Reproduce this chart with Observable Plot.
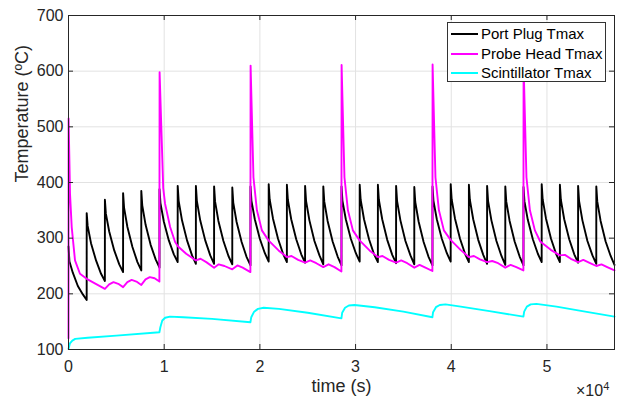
<!DOCTYPE html>
<html><head><meta charset="utf-8">
<script src="https://cdn.jsdelivr.net/npm/d3@7"></script>
<script src="https://cdn.jsdelivr.net/npm/@observablehq/plot@0.6"></script>
<style>
body{margin:0;background:#fff;}
#wrap{position:relative;width:624px;height:403px;font-family:"Liberation Sans",Arial,Helvetica,sans-serif;color:#262626;}
#legend{position:absolute;left:447px;top:22px;width:159px;height:60px;background:#fff;border:1px solid #333;box-sizing:border-box;}
.row{position:absolute;left:0;height:20px;width:100%;}
.row .ln{position:absolute;left:3px;width:27px;height:2px;top:9px;}
.row .tx{position:absolute;left:33px;top:0;line-height:20px;font-size:15px;color:#000;white-space:nowrap;}
#exp{position:absolute;left:576px;top:382px;font-size:16px;line-height:18px;white-space:nowrap;}
#exp sup{font-size:11px;vertical-align:6px;line-height:0;}
</style>
</head><body>
<div id="wrap"><div id="chart"></div>
<div id="legend"></div>
<div id="exp">×10<sup>4</sup></div>
</div>
<script>
// ---- data ----
const seriesNames = ["Port Plug Tmax", "Probe Head Tmax", "Scintillator Tmax"];
const seriesColors = ["#000000", "#ff00ff", "#00ffff"];
const xTicks = [0, 10000, 20000, 30000, 40000, 50000];
const yTicks = [100, 200, 300, 400, 500, 600, 700];

// Port plug: sawtooth teeth, start time of each tooth + values at offsets within the tooth
const toothStart = [0, 1902, 3804, 5706, 7608,
  9510, 11412, 13314, 15216, 17118,
  19020, 20922, 22824, 24726, 26628,
  28530, 30432, 32334, 34236, 36138,
  38040, 39942, 41844, 43746, 45648,
  47550, 49452, 51354, 53256, 55158];
const toothOffset = [0, 100, 450, 975, 1500, 1900];
const portVals = [
  [285, 258, 238, 214, 199, 189],
  [345, 322, 291, 260, 236, 223],
  [369, 344, 312, 278, 253, 239],
  [381, 355, 320, 284, 257, 242],
  [385, 359, 324, 288, 262, 247],
  [388, 363, 330, 296, 271, 257],
  [394, 367, 332, 296, 269, 254],
  [394, 367, 332, 296, 269, 254],
  [393, 366, 331, 295, 268, 253],
  [391, 364, 329, 293, 266, 251],
  [393, 367, 334, 299, 273, 258],
  [397, 370, 335, 299, 272, 257],
  [396, 369, 334, 298, 271, 256],
  [394, 367, 332, 295, 269, 253],
  [393, 366, 331, 294, 267, 251],
  [393, 367, 334, 299, 273, 258],
  [396, 369, 334, 298, 271, 257],
  [396, 369, 334, 297, 270, 255],
  [394, 367, 332, 295, 269, 253],
  [392, 365, 330, 293, 266, 251],
  [393, 367, 334, 299, 273, 258],
  [397, 370, 335, 299, 272, 257],
  [396, 369, 334, 297, 270, 254],
  [394, 367, 332, 295, 268, 252],
  [393, 366, 331, 294, 267, 251],
  [392, 366, 333, 298, 272, 257],
  [397, 370, 335, 299, 272, 257],
  [396, 369, 334, 298, 271, 256],
  [394, 367, 332, 295, 269, 254],
  [393, 366, 331, 294, 268, 252]
];

// Probe head
const probeT = [
  0, 10, 157, 335, 680, 1200, 1900, 2850, 3804, 4250, 4700, 5200, 5706, 6150, 6600, 7100, 7608, 8050, 8500, 9000, 9500,
  9520, 9900, 10090, 10620, 11140, 11450, 12300, 13314, 13800, 14400, 15216, 15700, 16300, 17118, 17650, 18200, 19010,
  19030, 19330, 19690, 20210, 20900, 21950, 22824, 23300, 24000, 24726, 25260, 25900, 26628, 27180, 27800, 28520,
  28540, 28840, 29200, 29720, 30420, 31460, 32334, 32810, 33500, 34236, 34770, 35400, 36138, 36690, 37300, 38030,
  38050, 38350, 38710, 39230, 39930, 40970, 41844, 42370, 43000, 43746, 44280, 44900, 45648, 46200, 46800, 47540,
  47560, 47860, 48220, 48740, 49300, 50400, 51354, 51880, 52500, 53256, 53800, 54400, 55158, 55700, 56300, 57060];
const probeV = [
  120, 515, 380, 320, 260, 236, 227, 218, 209, 217, 221, 218, 212, 221, 225, 222, 216, 226, 230, 228, 222,
  598, 390, 362, 320, 293, 285, 272, 260, 263, 257, 247, 253, 250, 244, 251, 247, 239,
  610, 409, 350, 314, 296, 278, 266, 268, 261, 256, 260, 255, 248, 253, 248, 240,
  611, 409, 350, 314, 296, 278, 266, 268, 261, 256, 260, 255, 247, 252, 247, 241,
  612, 409, 350, 314, 297, 279, 266, 268, 262, 257, 259, 255, 247, 252, 248, 242,
  611, 409, 350, 314, 294, 279, 269, 270, 263, 257, 261, 256, 250, 253, 248, 242];

// Scintillator
const scintT = [0, 150, 400, 700, 2000, 5000, 9500, 9600, 9800, 10100, 10600, 12000, 15000, 19010,
  19100, 19400, 19800, 20400, 22000, 25000, 28520, 28600, 28900, 29300, 29900, 32000, 35000, 38030,
  38100, 38400, 38800, 39400, 41000, 44000, 47540, 47620, 47900, 48300, 48900, 51000, 54000, 57060];
const scintV = [101, 111, 116, 119, 121, 125, 131, 140, 152, 157, 159, 158, 155, 149,
  158, 168, 173, 175, 173, 166, 156, 166, 175, 179, 180, 176, 168, 158,
  167, 176, 180, 181, 177, 169, 159, 168, 177, 181, 182, 177, 168, 159];

// ---- build tables ----
const portData = [];
toothStart.forEach((t0, i) => toothOffset.forEach((o, j) => portData.push({t: t0 + o, v: portVals[i][j]})));
const probeData = probeT.map((t, i) => ({t, v: probeV[i]}));
const scintData = scintT.map((t, i) => ({t, v: scintV[i]}));

const W = 624, H = 403, mL = 68, mR = 10, mT = 15, mB = 54;
const plotW = W - mL - mR, plotH = H - mT - mB;
const axisColor = "#262626";

const chart = Plot.plot({
  width: W, height: H,
  marginLeft: mL, marginRight: mR, marginTop: mT, marginBottom: mB,
  style: {fontFamily: "'Liberation Sans', Arial, Helvetica, sans-serif", fontSize: "16px", color: axisColor, background: "#fff", overflow: "visible"},
  x: {domain: [0, 57060]},
  y: {domain: [100, 700]},
  marks: [
    Plot.gridX(xTicks, {stroke: "#e2e2e2", strokeOpacity: 1}),
    Plot.gridY(yTicks, {stroke: "#e2e2e2", strokeOpacity: 1}),
    Plot.axisX(xTicks, {tickSize: 0, tickPadding: 11, tickFormat: d => String(d / 1e4), label: null, fontSize: 16}),
    Plot.axisY(yTicks, {tickSize: 0, tickPadding: 5, label: null, fontSize: 16}),
    Plot.line(portData, {x: "t", y: "v", stroke: seriesColors[0], strokeWidth: 1.9}),
    Plot.line(probeData, {x: "t", y: "v", stroke: seriesColors[1], strokeWidth: 1.9}),
    Plot.line(scintData, {x: "t", y: "v", stroke: seriesColors[2], strokeWidth: 1.9}),
    Plot.tickX(xTicks, {x: d => d, insetTop: plotH - 5, stroke: axisColor}),
    Plot.tickX(xTicks, {x: d => d, insetBottom: plotH - 5, stroke: axisColor}),
    Plot.tickY(yTicks, {y: d => d, insetRight: plotW - 5, stroke: axisColor}),
    Plot.tickY(yTicks, {y: d => d, insetLeft: plotW - 5, stroke: axisColor}),
    Plot.frame({stroke: axisColor}),
    Plot.text(["time (s)"], {text: d => d, frameAnchor: "bottom", dy: 42, fontSize: 18, fill: axisColor}),
    Plot.text(["Temperature (ºC)"], {text: d => d, frameAnchor: "left", dx: -46, rotate: -90, fontSize: 18, fill: axisColor})
  ]
});
document.getElementById("chart").appendChild(chart);

// legend
const lg = document.getElementById("legend");
seriesNames.forEach((name, i) => {
  const r = document.createElement("div");
  r.className = "row";
  r.style.top = (1 + i * 19.5) + "px";
  r.innerHTML = `<div class="ln" style="background:${seriesColors[i]}"></div><div class="tx">${name}</div>`;
  lg.appendChild(r);
});
</script>
</body></html>
